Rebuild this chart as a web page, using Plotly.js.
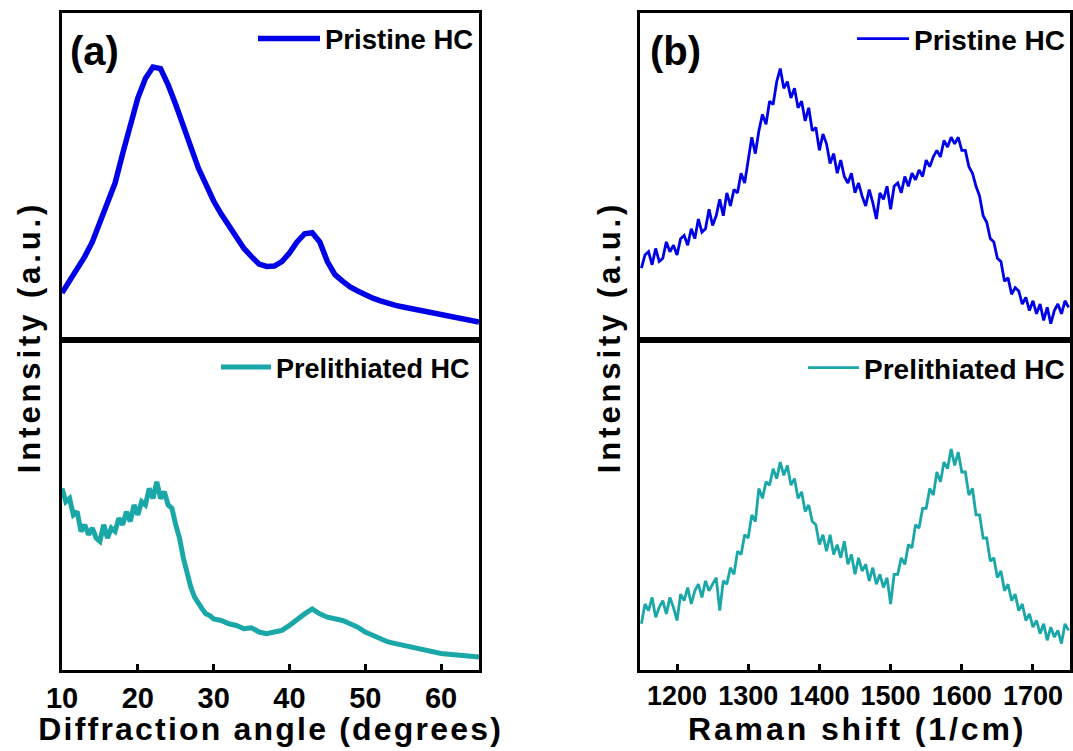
<!DOCTYPE html>
<html>
<head>
<meta charset="utf-8">
<script src="https://cdn.plot.ly/plotly-3.0.1.min.js"></script>
<style>
html,body{margin:0;padding:0;background:#fff;}
#chart{width:1073px;height:751px;}
g.annotation[data-index="0"] text, g.annotation[data-index="1"] text { letter-spacing: 3.9px; }
g.annotation[data-index="4"] text { letter-spacing: 2.2px; }
g.annotation[data-index="5"] text { letter-spacing: 2.9px; }
</style>
</head>
<body>
<div id="chart"></div>
<script>
// ---- (a) XRD data ----
const xrdAngle = [10,11,12,13,14,15,16,17,18,19,20,21,22,23,24,25,26,27,28,29,30,31,32,33,34,35,36,37,38,39,40,41,42,43,44,45,46,47,48,49,50,51,52,53,54,55,56,57,58,59,60,61,62,63,64,65];
const xrdPristine = [14.4,18,21.5,25.5,30,36,42,48,57,66,74,80,83.5,83,78,72,65,59,52.5,47,42.5,38.5,35,31.5,28,25.5,23.2,22.5,22.6,24,26.6,30,32.5,32.8,30,24,20,18,16.2,15,13.8,12.8,12,11.2,10.6,10.1,9.6,9.1,8.6,8.2,7.7,7.2,6.7,6.3,5.9,5.5];

const xrdAngleLi = [10,10.5,11,11.5,12,12.5,13,13.5,14,14.5,15,15.5,16,16.5,17,17.5,18,18.5,19,19.5,20,20.5,21,21.5,22,22.5,23,23.5,24,24.5,25,25.5,26,26.5,27,27.5,28,28.5,29,29.5,30,31,32,33,34,35,36,37,38,39,40,41,42,43,44,45,46,47,48,49,50,51,52,53,54,55,56,57,58,59,60,61,62,63,64,65];
const xrdPrelithiated = [55,51,52,47,48,42,44,41,43,40,39,44,40,43,42,46,44,48,45,50,47,51,50,55,52,57,52,54,50,49,44,40,34,29,25,22,20,18.5,17,16.5,15.5,15,14,13.5,12.5,12.8,11.5,11,11.5,12,13.5,15.5,17,18.5,17,16,15.5,15,14,13,11.5,10.5,9.5,8.5,8,7.5,6.8,6.3,5.8,5.5,5,4.8,4.5,4.2,4,3.9];

// ---- (b) Raman data ----
const ramanShift = [1150,1155,1160,1165,1170,1175,1180,1185,1190,1195,1200,1205,1210,1215,1220,1225,1230,1235,1240,1245,1250,1255,1260,1265,1270,1275,1280,1285,1290,1295,1300,1305,1310,1315,1320,1325,1330,1335,1340,1345,1350,1355,1360,1365,1370,1375,1380,1385,1390,1395,1400,1405,1410,1415,1420,1425,1430,1435,1440,1445,1450,1455,1460,1465,1470,1475,1480,1485,1490,1495,1500,1505,1510,1515,1520,1525,1530,1535,1540,1545,1550,1555,1560,1565,1570,1575,1580,1585,1590,1595,1600,1605,1610,1615,1620,1625,1630,1635,1640,1645,1650,1655,1660,1665,1670,1675,1680,1685,1690,1695,1700,1705,1710,1715,1720,1725,1730,1735,1740,1745,1750];
const ramanPristine = [
  22,26,27,23,28,24,25,30,27,29,
  26,31,32,29,34,31,37,33,34,40,
  35,38,43,38,45,41,46,45,51,48,
  55,62,57,64,69,66,73,72,79,83,
  77,79,74,77,71,73,67,71,64,65,
  58,63,60,54,57,51,55,50,48,51,
  45,48,44,41,46,42,37,45,43,47,
  40,47,48,45,50,47,51,49,52,50,
  55,53,56,58,56,61,59,62,60,62,
  58,58,53,51,47,44,38,36,31,30,
  25,24,18,19,14,16,15,11,13,9,
  12,8,11,6,10,5,9,11,8,12,
  10];
const ramanPrelithiated = [
  14,20,18,22,16,19,21,17,22,19,
  15,23,21,25,20,24,26,22,27,24,
  26,28,18,27,26,31,29,36,35,41,
  40,47,45,55,52,57,56,61,58,63,
  59,62,56,58,52,54,48,50,45,44,
  38,41,36,41,35,38,34,39,32,35,
  29,34,30,32,27,31,26,29,25,28,
  20,29,29,34,32,38,37,44,43,49,
  49,55,53,60,57,63,61,67,62,66,
  60,60,53,55,47,47,40,40,33,34,
  28,30,24,26,21,23,18,20,15,17,
  13,15,11,14,9,13,10,12,8,14,
  12];

const seriesNames = ['Pristine HC', 'Prelithiated HC'];
const xTitles = ['Diffraction angle (degrees)', 'Raman shift (1/cm)'];
const yTitle = 'Intensity (a.u.)';
const panelLabels = ['(a)', '(b)'];

const BLUE = '#0000e8';
const TEAL = '#19a7a7';
const FONT = 'Liberation Sans, Arial, sans-serif';
const W = 1073, H = 751;
const px = v => v / W;
const py = v => 1 - v / H;

const traces = [
  {x: xrdAngle, y: xrdPristine, xaxis: 'x', yaxis: 'y', name: seriesNames[0], mode: 'lines',
   line: {color: BLUE, width: 5.5}, legend: 'legend'},
  {x: xrdAngleLi, y: xrdPrelithiated, xaxis: 'x2', yaxis: 'y2', name: seriesNames[1], mode: 'lines',
   line: {color: TEAL, width: 5}, legend: 'legend2'},
  {x: ramanShift, y: ramanPristine, xaxis: 'x3', yaxis: 'y3', name: seriesNames[0], mode: 'lines',
   line: {color: BLUE, width: 2.8}, legend: 'legend3'},
  {x: ramanShift, y: ramanPrelithiated, xaxis: 'x4', yaxis: 'y4', name: seriesNames[1], mode: 'lines',
   line: {color: TEAL, width: 2.8}, legend: 'legend4'}
];

const domA = [px(62), px(479)];
const domB = [px(640), px(1070)];
const domTop = [py(340), py(13)];
const domBot = [py(670), py(340)];

function frameAxis(extra) {
  return Object.assign({
    showline: true, mirror: true, linecolor: '#000', linewidth: 3,
    showgrid: false, zeroline: false, ticks: '', showticklabels: false
  }, extra);
}
function bottomX(extra, size) {
  return frameAxis(Object.assign({
    ticks: 'inside', ticklen: 6, tickwidth: 3, tickcolor: '#000',
    showticklabels: true, tickfont: {family: FONT, size: size, color: '#000', weight: 'bold'}
  }, extra));
}
function legendAt(xr, yt, iw, fs) {
  return {x: px(xr), xanchor: 'right', y: py(yt), yanchor: 'top', bgcolor: 'rgba(0,0,0,0)',
          borderwidth: 0, itemwidth: iw, font: {family: FONT, size: fs, color: '#000', weight: 'bold'}};
}
const titleFont = {family: FONT, size: 32, color: '#000', weight: 'bold'};
const yTitleFont = {family: FONT, size: 31, color: '#000', weight: 'bold'};
const ann = (text, x, y, font, angle) => ({text: text, xref: 'paper', yref: 'paper', x: px(x), y: py(y),
  xanchor: 'center', yanchor: 'middle', textangle: angle || 0, showarrow: false, font: font});

const layout = {
  width: W, height: H,
  margin: {l: 0, r: 0, t: 0, b: 0},
  paper_bgcolor: '#fff', plot_bgcolor: '#fff',
  showlegend: true,
  xaxis: frameAxis({domain: domA, range: [10, 65], anchor: 'y'}),
  yaxis: frameAxis({domain: domTop, range: [0, 100], anchor: 'x'}),
  xaxis2: bottomX({domain: domA, range: [10, 65], anchor: 'y2', dtick: 10, tick0: 10}, 29),
  yaxis2: frameAxis({domain: domBot, range: [0, 100], anchor: 'x2'}),
  xaxis3: frameAxis({domain: domB, range: [1148, 1752], anchor: 'y3'}),
  yaxis3: frameAxis({domain: domTop, range: [0, 100], anchor: 'x3'}),
  xaxis4: bottomX({domain: domB, range: [1148, 1752], anchor: 'y4', dtick: 100, tick0: 1200}, 27),
  yaxis4: frameAxis({domain: domBot, range: [0, 100], anchor: 'x4'}),
  legend: legendAt(479, 14, 62, 27.5),
  legend2: legendAt(475, 343, 50, 27),
  legend3: legendAt(1070, 14, 52, 28),
  legend4: legendAt(1070, 343, 51, 28),
  annotations: [
    ann(yTitle, 29, 337, yTitleFont, -90),
    ann(yTitle, 609, 337, yTitleFont, -90),
    ann(panelLabels[0], 94, 51, {family: FONT, size: 40, color: '#000', weight: 'bold'}),
    ann(panelLabels[1], 675, 51, {family: FONT, size: 40, color: '#000', weight: 'bold'}),
    ann(xTitles[0], 270, 729, titleFont),
    ann(xTitles[1], 857, 729, titleFont)
  ]
};

Plotly.newPlot('chart', traces, layout, {displayModeBar: false, staticPlot: true});
</script>
</body>
</html>
